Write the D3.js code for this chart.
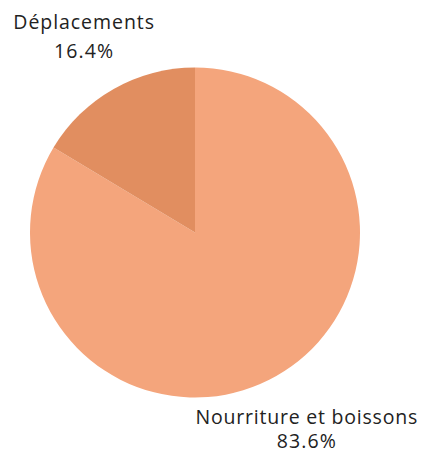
<!DOCTYPE html>
<html><head><meta charset="utf-8">
<script src="https://cdn.jsdelivr.net/npm/d3@7"></script>
<style>body{margin:0;background:#fff}</style>
</head><body>
<svg id="c" width="422" height="454"></svg>
<script>
const categories = ["Nourriture et boissons", "Déplacements"];
const values = [83.6, 16.4];
const colors = ["#F4A57C", "#E18E60"];

const svg = d3.select("#c");
const cx = 195, cy = 232.5, r = 165;
const g = svg.append("g").attr("transform", `translate(${cx},${cy})`);
const data = categories.map((c, i) => ({cat: c, v: values[i]}));
const pie = d3.pie().value(d => d.v).sort(null);
const arcs = pie(data);
const arc = d3.arc().innerRadius(0).outerRadius(r);
g.selectAll("path").data(arcs).join("path")
  .attr("d", arc).attr("fill", (d, i) => colors[i]);

const labelArc = d3.arc().innerRadius(226).outerRadius(226);
const font = "'Open Sans', 'Noto Sans', sans-serif";
const fs = 19.5;
const measure = svg.append("text").attr("font-family", font).attr("font-size", fs).attr("visibility", "hidden");
function natW(s) { measure.text(s); return measure.node().getComputedTextLength(); }
const widthScale = 1.08;

arcs.forEach(d => {
  const [x, y] = labelArc.centroid(d);
  const upper = y < 0;
  const line1 = d.data.cat, line2 = d.data.v.toFixed(1) + "%";
  const t = g.append("text")
    .attr("text-anchor", "middle")
    .attr("font-family", font)
    .attr("font-size", fs)
    .attr("fill", "#222")
    .attr("transform", `translate(${x},${y})`);
  t.append("tspan").attr("x", 0).attr("y", upper ? -6.5 : -5.5)
    .attr("textLength", natW(line1) * widthScale).attr("lengthAdjust", "spacing").text(line1);
  t.append("tspan").attr("x", 0).attr("y", upper ? 22 : 19.3)
    .attr("textLength", natW(line2) * widthScale).attr("lengthAdjust", "spacing").text(line2);
});
measure.remove();
</script>
</body></html>
